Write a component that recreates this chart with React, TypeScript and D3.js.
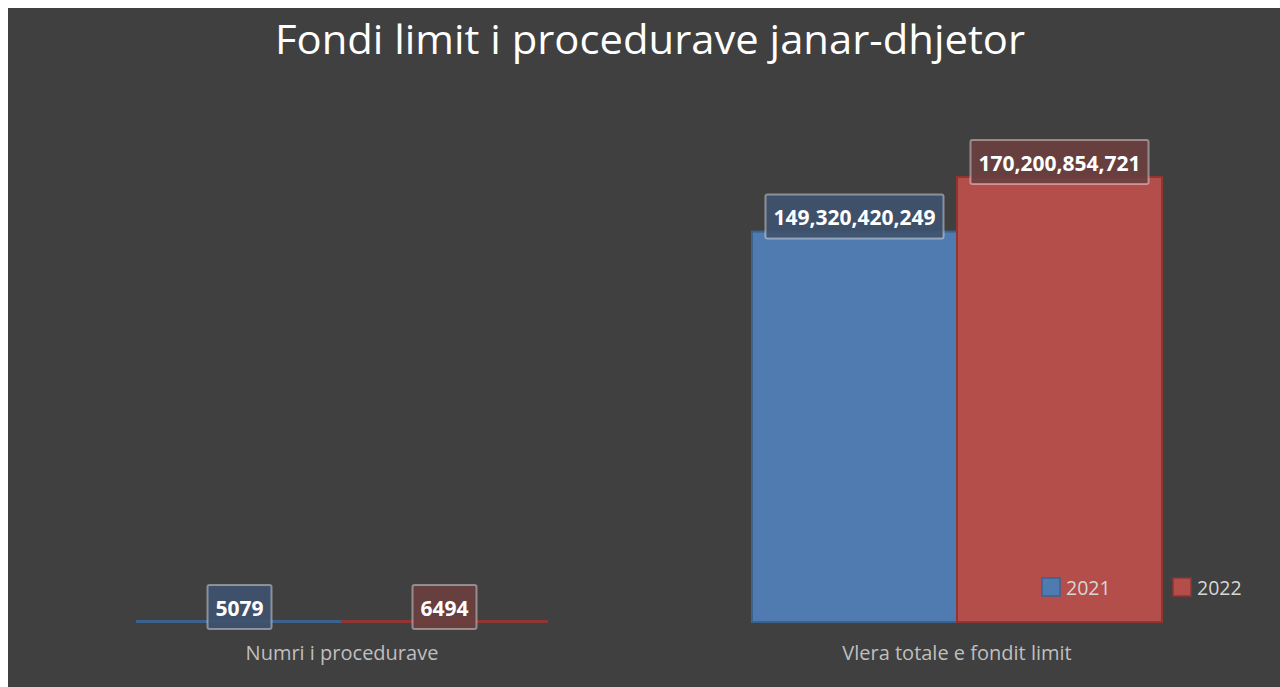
import React from "react";
import * as d3 from "d3";

const categories = ["Numri i procedurave", "Vlera totale e fondit limit"];
const seriesNames = ["2021", "2022"];
const values2021 = [5079, 149320420249];
const values2022 = [6494, 170200854721];
const labels2021 = ["5079", "149,320,420,249"];
const labels2022 = ["6494", "170,200,854,721"];
const title = "Fondi limit i procedurave janar-dhjetor";

const W = 1272;
const H = 679;
const FONT = "'Open Sans', 'Noto Sans', sans-serif";

const colors = ["#4f7bb0", "#b34e4b"];
const strokes = ["#3b628f", "#8f3533"];
const boxFills = ["#3f536e", "#6b3f3f"];

let measureCtx: CanvasRenderingContext2D | null = null;
function measure(text: string, font: string): number {
  if (!measureCtx) {
    const c = document.createElement("canvas");
    measureCtx = c.getContext("2d");
  }
  if (!measureCtx) return text.length * 12;
  measureCtx.font = font;
  return measureCtx.measureText(text).width;
}

export default function App() {
  const plotLeft = 26.5;
  const plotRight = 1256.5;
  const baseY = 614;
  const x0 = d3.scaleBand<string>().domain(categories).range([plotLeft, plotRight]).paddingInner(0).paddingOuter(0);
  const x1 = d3.scaleBand<string>().domain(seriesNames).range([0, x0.bandwidth()]).paddingInner(0).paddingOuter(0.5);
  const y = d3.scaleLinear().domain([0, 180e9]).range([baseY, baseY - 445 * 180 / 170.200854721]);

  const series = [
    { name: seriesNames[0], values: values2021, labels: labels2021 },
    { name: seriesNames[1], values: values2022, labels: labels2022 },
  ];

  const labelFont = `700 21px 'Open Sans'`;

  return (
    <svg
      width={W}
      height={H}
      style={{ position: "fixed", left: 8, top: 8, display: "block" }}
    >
      <rect x={0} y={0} width={W} height={H} fill="#404040" />
      <text
        x={642}
        y={46}
        textAnchor="middle"
        fill="#ffffff"
        fontFamily={FONT}
        fontSize={40}
        textLength={750}
        lengthAdjust="spacingAndGlyphs"
      >
        {title}
      </text>
      {series.map((s, si) => (
        <g key={s.name}>
          {categories.map((c, ci) => {
            const bx = (x0(c) ?? 0) + (x1(s.name) ?? 0);
            const bw = x1.bandwidth();
            const top = y(s.values[ci]);
            const h = Math.max(baseY - top, 1);
            return (
              <rect
                key={c}
                x={bx}
                y={baseY - h}
                width={bw}
                height={h}
                fill={colors[si]}
                stroke={strokes[si]}
                strokeWidth={2}
              />
            );
          })}
        </g>
      ))}
      {series.map((s, si) => (
        <g key={"lab" + s.name}>
          {categories.map((c, ci) => {
            const cx = (x0(c) ?? 0) + (x1(s.name) ?? 0) + x1.bandwidth() / 2;
            const top = y(s.values[ci]);
            const text = s.labels[ci];
            const tw = measure(text, labelFont) + 16;
            const bh = 44;
            const cy = top - 15;
            return (
              <g key={c}>
                <rect
                  x={cx - tw / 2}
                  y={cy - bh / 2}
                  width={tw}
                  height={bh}
                  rx={2}
                  fill={boxFills[si]}
                  fillOpacity={0.92}
                  stroke="#ffffff"
                  strokeOpacity={0.4}
                  strokeWidth={2}
                />
                <text
                  x={cx}
                  y={cy + 8.5}
                  textAnchor="middle"
                  fill="#ffffff"
                  fontFamily={FONT}
                  fontWeight={700}
                  fontSize={21}
                >
                  {text}
                </text>
              </g>
            );
          })}
        </g>
      ))}
      {categories.map((c) => (
        <text
          key={c}
          x={(x0(c) ?? 0) + x0.bandwidth() / 2}
          y={652}
          textAnchor="middle"
          fill="#bfbfbf"
          fontFamily={FONT}
          fontSize={20}
        >
          {c}
        </text>
      ))}
      {seriesNames.map((n, i) => {
        const lx = 1034 + i * 131;
        return (
          <g key={n}>
            <rect
              x={lx}
              y={570}
              width={18}
              height={18}
              fill={colors[i]}
              stroke={strokes[i]}
              strokeWidth={1.5}
            />
            <text
              x={lx + 24}
              y={587}
              fill="#d6d6d6"
              fontFamily={FONT}
              fontSize={19.5}
            >
              {n}
            </text>
          </g>
        );
      })}
    </svg>
  );
}
